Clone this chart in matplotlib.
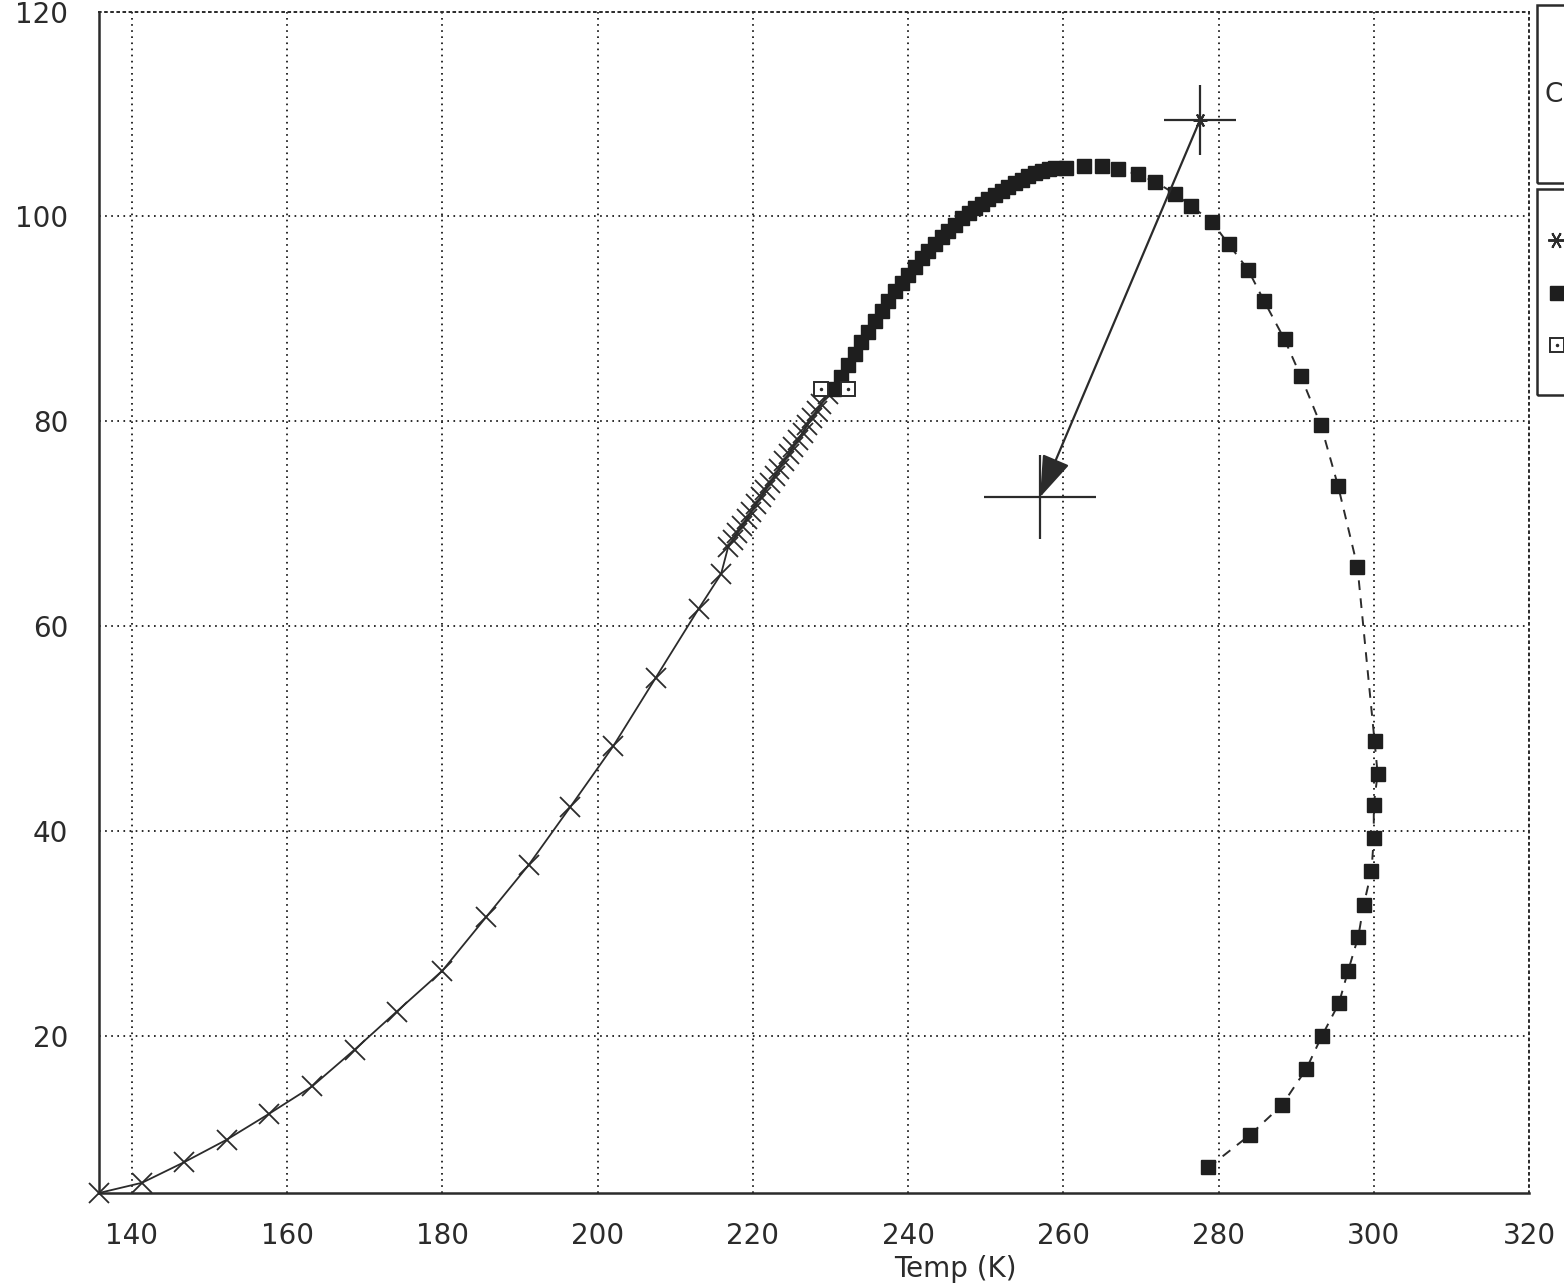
import matplotlib
matplotlib.use("Agg")
import matplotlib.pyplot as plt
from matplotlib.lines import Line2D
from matplotlib.patches import Rectangle

plt.rcParams.update({
    "font.family": ["DejaVu Sans"],
    "font.size": 20,
    "lines.scale_dashes": False,
})

INK = "#2b2b2b"

# --- series 1: solid line, x markers -------------------------------------
cross_T = [135.75, 141.3, 146.7, 152.2, 157.6, 163.2, 168.7, 174.1, 180.0,
           185.6, 191.1, 196.5, 202.0, 207.5, 213.0, 215.9,
           216.8, 217.4, 218.0, 218.6, 219.2, 219.8, 220.4, 221.0, 221.6,
           222.2, 222.8, 223.4, 224.0, 224.6, 225.2, 225.8, 226.4, 227.0,
           227.6, 228.2, 228.8, 229.7]
cross_v = [4.7, 5.7, 7.7, 9.9, 12.4, 15.1, 18.7, 22.4, 26.4,
           31.6, 36.7, 42.4, 48.3, 55.0, 61.7, 65.1,
           67.7, 68.4, 69.1, 69.8, 70.5, 71.2, 71.9, 72.6, 73.3,
           74.0, 74.7, 75.4, 76.1, 76.8, 77.5, 78.2, 78.9, 79.6,
           80.3, 81.0, 81.7, 82.7]

# --- series 2: dashed line, filled squares --------------------------------
sq_T = [230.5, 231.4, 232.2, 233.1, 233.9, 234.8, 235.7, 236.6, 237.4,
        238.3, 239.2, 240.0, 240.9, 241.8, 242.6, 243.5, 244.4, 245.2,
        246.1, 246.9, 247.8, 248.6, 249.5, 250.3, 251.2, 252.1, 252.9,
        253.8, 254.7, 255.5, 256.4, 257.2, 258.1, 258.9,
        260.3, 262.6, 265.0, 267.1, 269.6, 271.8, 274.4, 276.5, 279.1,
        281.3, 283.8, 285.9, 288.5, 290.6, 293.2, 295.4, 297.9, 300.1,
        300.5, 300.0, 300.0, 299.7, 298.7, 298.0, 296.7, 295.5, 293.3,
        291.3, 288.2, 284.1, 278.7]
sq_v = [83.2, 84.3, 85.5, 86.6, 87.7, 88.7, 89.8, 90.8, 91.7,
        92.7, 93.5, 94.3, 95.1, 95.9, 96.6, 97.3, 98.0, 98.6,
        99.2, 99.8, 100.3, 100.8, 101.2, 101.7, 102.1, 102.5, 102.9,
        103.3, 103.6, 103.9, 104.2, 104.4, 104.6, 104.7,
        104.7, 104.9, 104.9, 104.6, 104.1, 103.4, 102.2, 101.0, 99.5,
        97.3, 94.8, 91.7, 88.0, 84.4, 79.6, 73.7, 65.8, 48.8,
        45.6, 42.6, 39.3, 36.1, 32.8, 29.7, 26.4, 23.2, 20.0,
        16.8, 13.3, 10.4, 7.2]

# --- series 3: open squares with a dot -------------------------------------
box_T = [228.8, 232.3]
box_v = [83.2, 83.2]

# --- star points with error bars, joined by an arrow ----------------------
star_T = [277.6, 257.0]
star_v = [109.4, 72.6]
star_Terr = [4.6, 7.2]
star_verr = [3.4, 4.1]

xticks = [140, 160, 180, 200, 220, 240, 260, 280, 300, 320]
yticks = [20, 40, 60, 80, 100, 120]

W, H = 1564, 1285
fig = plt.figure(figsize=(W / 100, H / 100), dpi=100)
fig.patch.set_facecolor("white")
L, R, T, B = 99, 1529, 11.5, 1193
ax = fig.add_axes([L / W, 1 - B / H, (R - L) / W, (B - T) / H])

ax.set_xlim(135.75, 320)
ax.set_ylim(4.7, 120)
ax.set_xticks(xticks)
ax.set_yticks(yticks)
ax.grid(True, linestyle=(0, (1.2, 3.2)), linewidth=1.4, color=INK)
ax.tick_params(length=0, labelcolor=INK, labelsize=20)
ax.tick_params(axis="x", pad=21)
ax.tick_params(axis="y", pad=22)
for s in ["left", "bottom"]:
    ax.spines[s].set_linewidth(1.8)
    ax.spines[s].set_color(INK)
for s in ["top", "right"]:
    ax.spines[s].set_linestyle((0, (1.2, 3.2)))
    ax.spines[s].set_linewidth(1.4)
    ax.spines[s].set_color(INK)

ax.plot(cross_T, cross_v, color=INK, lw=1.3, marker="x", ms=14, mew=1.3,
        clip_on=False, zorder=3)
ax.plot(sq_T, sq_v, color=INK, lw=1.4, linestyle=(0, (7, 6)),
        marker="s", ms=9.5, mfc="#1e1e1e", mec="#1e1e1e", zorder=3)
ax.plot(box_T, box_v, linestyle="none", marker="s", ms=10, mfc="white",
        mec=INK, mew=1.4, zorder=4)
ax.plot(box_T, box_v, linestyle="none", marker=".", ms=3, color=INK, zorder=5)

ax.errorbar(star_T, star_v, xerr=star_Terr, yerr=star_verr, fmt="none",
            ecolor=INK, elinewidth=1.6, capsize=0, zorder=4)
ax.plot(star_T[0], star_v[0], linestyle="none", marker=(6, 2, 90), ms=10,
        mew=1.5, color=INK, zorder=5)
ax.annotate("", xy=(star_T[1], star_v[1]), xytext=(star_T[0], star_v[0]),
            arrowprops=dict(arrowstyle="-|>,head_length=1.3,head_width=0.45",
                            mutation_scale=20, color=INK, lw=1.6,
                            shrinkA=0, shrinkB=0), zorder=5)

ax.set_xlabel("Temp (K)", color=INK, fontsize=20)
ax.xaxis.set_label_coords((955 - L) / (R - L), -(1255 - B) / (B - T))

# partial legend boxes at the right edge (cut off by the page)
for y0, y1 in [(5, 183), (189, 395)]:
    fig.patches.append(Rectangle((1537 / W, 1 - y1 / H), 80 / W, (y1 - y0) / H,
                                 transform=fig.transFigure, fill=False,
                                 lw=1.8, ec=INK))
fig.text(1545 / W, 1 - 95 / H, "C", fontsize=19, color=INK, va="center",
         ha="left")
fig.lines.append(Line2D([1556 / W], [1 - 240 / H], transform=fig.transFigure,
                        marker=(6, 2, 90), ms=12, mew=1.4, color=INK,
                        linestyle="none"))
fig.lines.append(Line2D([1557 / W], [1 - 293 / H], transform=fig.transFigure,
                        marker="s", ms=9.5, color="#1e1e1e", linestyle="none"))
fig.lines.append(Line2D([1557 / W], [1 - 345 / H], transform=fig.transFigure,
                        marker="s", ms=10, mfc="white", mec=INK, mew=1.4,
                        linestyle="none"))
fig.lines.append(Line2D([1557 / W], [1 - 345 / H], transform=fig.transFigure,
                        marker=".", ms=3, color=INK, linestyle="none"))

fig.savefig("out.png", dpi=100, facecolor="white")
